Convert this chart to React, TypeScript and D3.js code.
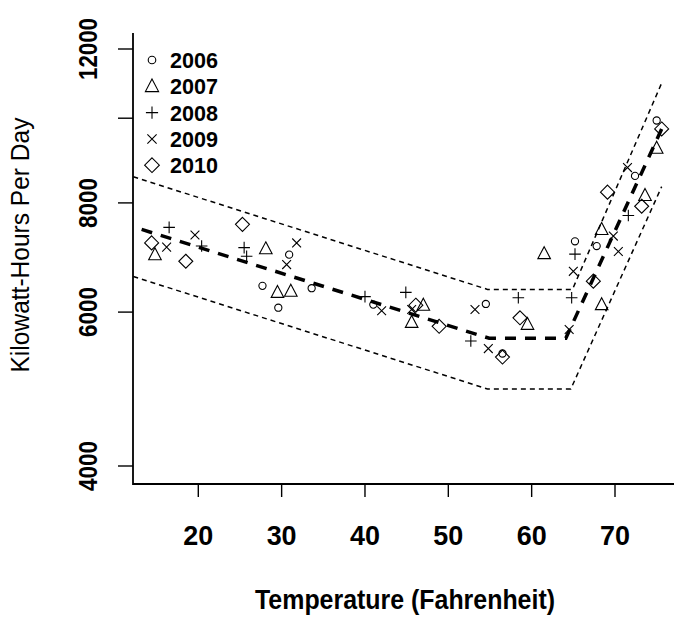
import React, { useRef, useEffect } from 'react';
import * as d3 from 'd3';

// readings
const years = ['2006', '2007', '2008', '2009', '2010'];

const temps2006 = [30.9, 27.7, 29.6, 33.6, 41.0, 54.5, 56.5, 65.2, 67.8, 72.4, 75.0];
const kwh2006 = [6980, 6430, 6070, 6390, 6120, 6130, 5380, 7230, 7140, 8590, 9940];

const temps2007 = [14.8, 28.1, 29.5, 31.1, 47.0, 45.6, 59.5, 61.5, 68.4, 68.4, 73.6, 75.0];
const kwh2007 = [6980, 7090, 6320, 6340, 6110, 5840, 5810, 7000, 7460, 6120, 8160, 9240];

const temps2008 = [16.5, 20.4, 25.5, 25.8, 40.0, 44.9, 52.7, 58.4, 65.2, 64.8, 71.6];
const kwh2008 = [7500, 7140, 7110, 6950, 6250, 6320, 5560, 6230, 6990, 6230, 7740];

const temps2009 = [16.2, 19.6, 31.8, 30.6, 42.0, 45.6, 53.2, 54.8, 65.0, 64.5, 69.8, 70.4, 71.5];
const kwh2009 = [7120, 7350, 7200, 6800, 6020, 6040, 6040, 5450, 6680, 5730, 7330, 7040, 8780];

const temps2010 = [14.4, 18.5, 25.3, 46.1, 48.9, 56.5, 58.6, 67.4, 69.1, 73.2, 75.6];
const kwh2010 = [7200, 6860, 7560, 6110, 5780, 5330, 5910, 6510, 8230, 7930, 9720];

// fitted curve and its band
const fitTemps = [13.2, 54.9, 64.1, 75.6];
const fitKwh = [7460, 5600, 5600, 9720];
const upperTemps = [12.2, 54.7, 64.9, 75.6];
const upperKwh = [8570, 6370, 6370, 10970];
const lowerTemps = [12.2, 54.7, 64.7, 75.6];
const lowerKwh = [6590, 4900, 4900, 8350];

const xTicks = [20, 30, 40, 50, 60, 70];
const yTicks = [4000, 6000, 8000, 10000, 12000];
const yTickLabels = ['4000', '6000', '8000', '', '12000'];

const shapes = ['circle', 'triangle', 'plus', 'cross', 'diamond'];

const FONT = '"Liberation Sans", Arial, sans-serif';

function shapePath(kind: string, cx: number, cy: number, k = 1) {
  const p = d3.path();
  if (kind === 'circle') {
    const r = 3.6 * k;
    p.moveTo(cx + r, cy);
    p.arc(cx, cy, r, 0, Math.PI * 2);
  } else if (kind === 'triangle') {
    const h = 6.3 * k;
    p.moveTo(cx, cy - h * 1.1);
    p.lineTo(cx + h, cy + h * 0.8);
    p.lineTo(cx - h, cy + h * 0.8);
    p.closePath();
  } else if (kind === 'plus') {
    const h = 5.8 * k;
    p.moveTo(cx - h, cy);
    p.lineTo(cx + h, cy);
    p.moveTo(cx, cy - h);
    p.lineTo(cx, cy + h);
  } else if (kind === 'cross') {
    const h = 4.4 * k;
    p.moveTo(cx - h, cy - h);
    p.lineTo(cx + h, cy + h);
    p.moveTo(cx - h, cy + h);
    p.lineTo(cx + h, cy - h);
  } else {
    const h = 7 * k;
    p.moveTo(cx, cy - h);
    p.lineTo(cx + h, cy);
    p.lineTo(cx, cy + h);
    p.lineTo(cx - h, cy);
    p.closePath();
  }
  return p.toString();
}

const App: React.FC = () => {
  const svgRef = useRef<SVGSVGElement>(null);

  useEffect(() => {
    if (!svgRef.current) return;
    const svg = d3.select(svgRef.current);
    svg.selectAll('*').remove();

    const left = 133, right = 674, top = 33, bottom = 484;

    const x = d3.scaleLinear().domain([20, 70]).range([198.3, 615]);
    const y = d3.scaleLog().domain([4000, 12000]).range([466, 49]);

    svg.append('rect').attr('width', 674).attr('height', 617).attr('fill', '#fff');

    // axes (L-shaped box)
    svg.append('path')
      .attr('d', `M${left},${top}V${bottom}H${right}`)
      .attr('fill', 'none')
      .attr('stroke', '#000')
      .attr('stroke-width', 1.8);

    svg.selectAll('.xtick')
      .data(xTicks)
      .enter()
      .append('line')
      .attr('x1', d => x(d)).attr('x2', d => x(d))
      .attr('y1', bottom).attr('y2', bottom + 13)
      .attr('stroke', '#000')
      .attr('stroke-width', 1.4);

    svg.selectAll('.xlab')
      .data(xTicks)
      .enter()
      .append('text')
      .attr('x', d => x(d))
      .attr('y', 545)
      .attr('text-anchor', 'middle')
      .attr('font-family', FONT)
      .attr('font-weight', 'bold')
      .attr('font-size', 27)
      .attr('textLength', 30)
      .attr('lengthAdjust', 'spacingAndGlyphs')
      .text(d => d);

    svg.selectAll('.ytick')
      .data(yTicks)
      .enter()
      .append('line')
      .attr('x1', left - 15).attr('x2', left)
      .attr('y1', d => y(d)).attr('y2', d => y(d))
      .attr('stroke', '#000')
      .attr('stroke-width', 1.4);

    svg.selectAll('.ylab')
      .data(yTicks.filter((_, i) => yTickLabels[i] !== ''))
      .enter()
      .append('text')
      .attr('transform', d => `translate(97,${y(d)}) rotate(-90)`)
      .attr('text-anchor', 'middle')
      .attr('font-family', FONT)
      .attr('font-weight', 'bold')
      .attr('font-size', 26)
      .attr('textLength', d => (yTickLabels[yTicks.indexOf(d)].length === 5 ? 62 : 50))
      .attr('lengthAdjust', 'spacingAndGlyphs')
      .text(d => yTickLabels[yTicks.indexOf(d)]);

    // axis titles
    svg.append('text')
      .attr('x', 405)
      .attr('y', 609)
      .attr('text-anchor', 'middle')
      .attr('font-family', FONT)
      .attr('font-weight', 'bold')
      .attr('font-size', 27)
      .attr('textLength', 300)
      .attr('lengthAdjust', 'spacingAndGlyphs')
      .text('Temperature (Fahrenheit)');

    svg.append('text')
      .attr('transform', 'translate(29,245) rotate(-90)')
      .attr('text-anchor', 'middle')
      .attr('font-family', FONT)
      .attr('font-size', 25)
      .attr('textLength', 255)
      .attr('lengthAdjust', 'spacingAndGlyphs')
      .text('Kilowatt-Hours Per Day');

    // fit lines
    const line = d3.line<[number, number]>()
      .x(d => x(d[0]))
      .y(d => y(d[1]));

    const band = [
      { t: upperTemps, v: upperKwh },
      { t: lowerTemps, v: lowerKwh },
    ];
    band.forEach(b => {
      svg.append('path')
        .datum(b.t.map((t, i) => [t, b.v[i]] as [number, number]))
        .attr('fill', 'none')
        .attr('stroke', '#000')
        .attr('stroke-width', 1.5)
        .attr('stroke-dasharray', '5,4')
        .attr('d', line);
    });

    svg.append('path')
      .datum(fitTemps.map((t, i) => [t, fitKwh[i]] as [number, number]))
      .attr('fill', 'none')
      .attr('stroke', '#000')
      .attr('stroke-width', 3.5)
      .attr('stroke-dasharray', '11,9')
      .attr('d', line);

    // points
    const series = [
      { t: temps2006, v: kwh2006 },
      { t: temps2007, v: kwh2007 },
      { t: temps2008, v: kwh2008 },
      { t: temps2009, v: kwh2009 },
      { t: temps2010, v: kwh2010 },
    ];
    series.forEach((s, si) => {
      svg.append('g')
        .selectAll('path')
        .data(s.t.map((t, i) => [t, s.v[i]]))
        .enter()
        .append('path')
        .attr('d', d => shapePath(shapes[si], x(d[0]), y(d[1])))
        .attr('fill', 'none')
        .attr('stroke', '#000')
        .attr('stroke-width', 1.1);
    });

    // legend
    const lg = svg.append('g');
    years.forEach((yr, i) => {
      const cy = 60 + i * 26.3;
      lg.append('path')
        .attr('d', shapePath(shapes[i], 152, cy, 1.05))
        .attr('fill', 'none')
        .attr('stroke', '#000')
        .attr('stroke-width', 1.1);
      lg.append('text')
        .attr('x', 170)
        .attr('y', cy + 8)
        .attr('font-family', FONT)
        .attr('font-weight', 'bold')
        .attr('font-size', 22)
        .attr('textLength', 48)
        .attr('lengthAdjust', 'spacingAndGlyphs')
        .text(yr);
    });
  }, []);

  return (
    <svg
      ref={svgRef}
      width={674}
      height={617}
      style={{ position: 'absolute', left: 0, top: 0, display: 'block' }}
    />
  );
};

export default App;
